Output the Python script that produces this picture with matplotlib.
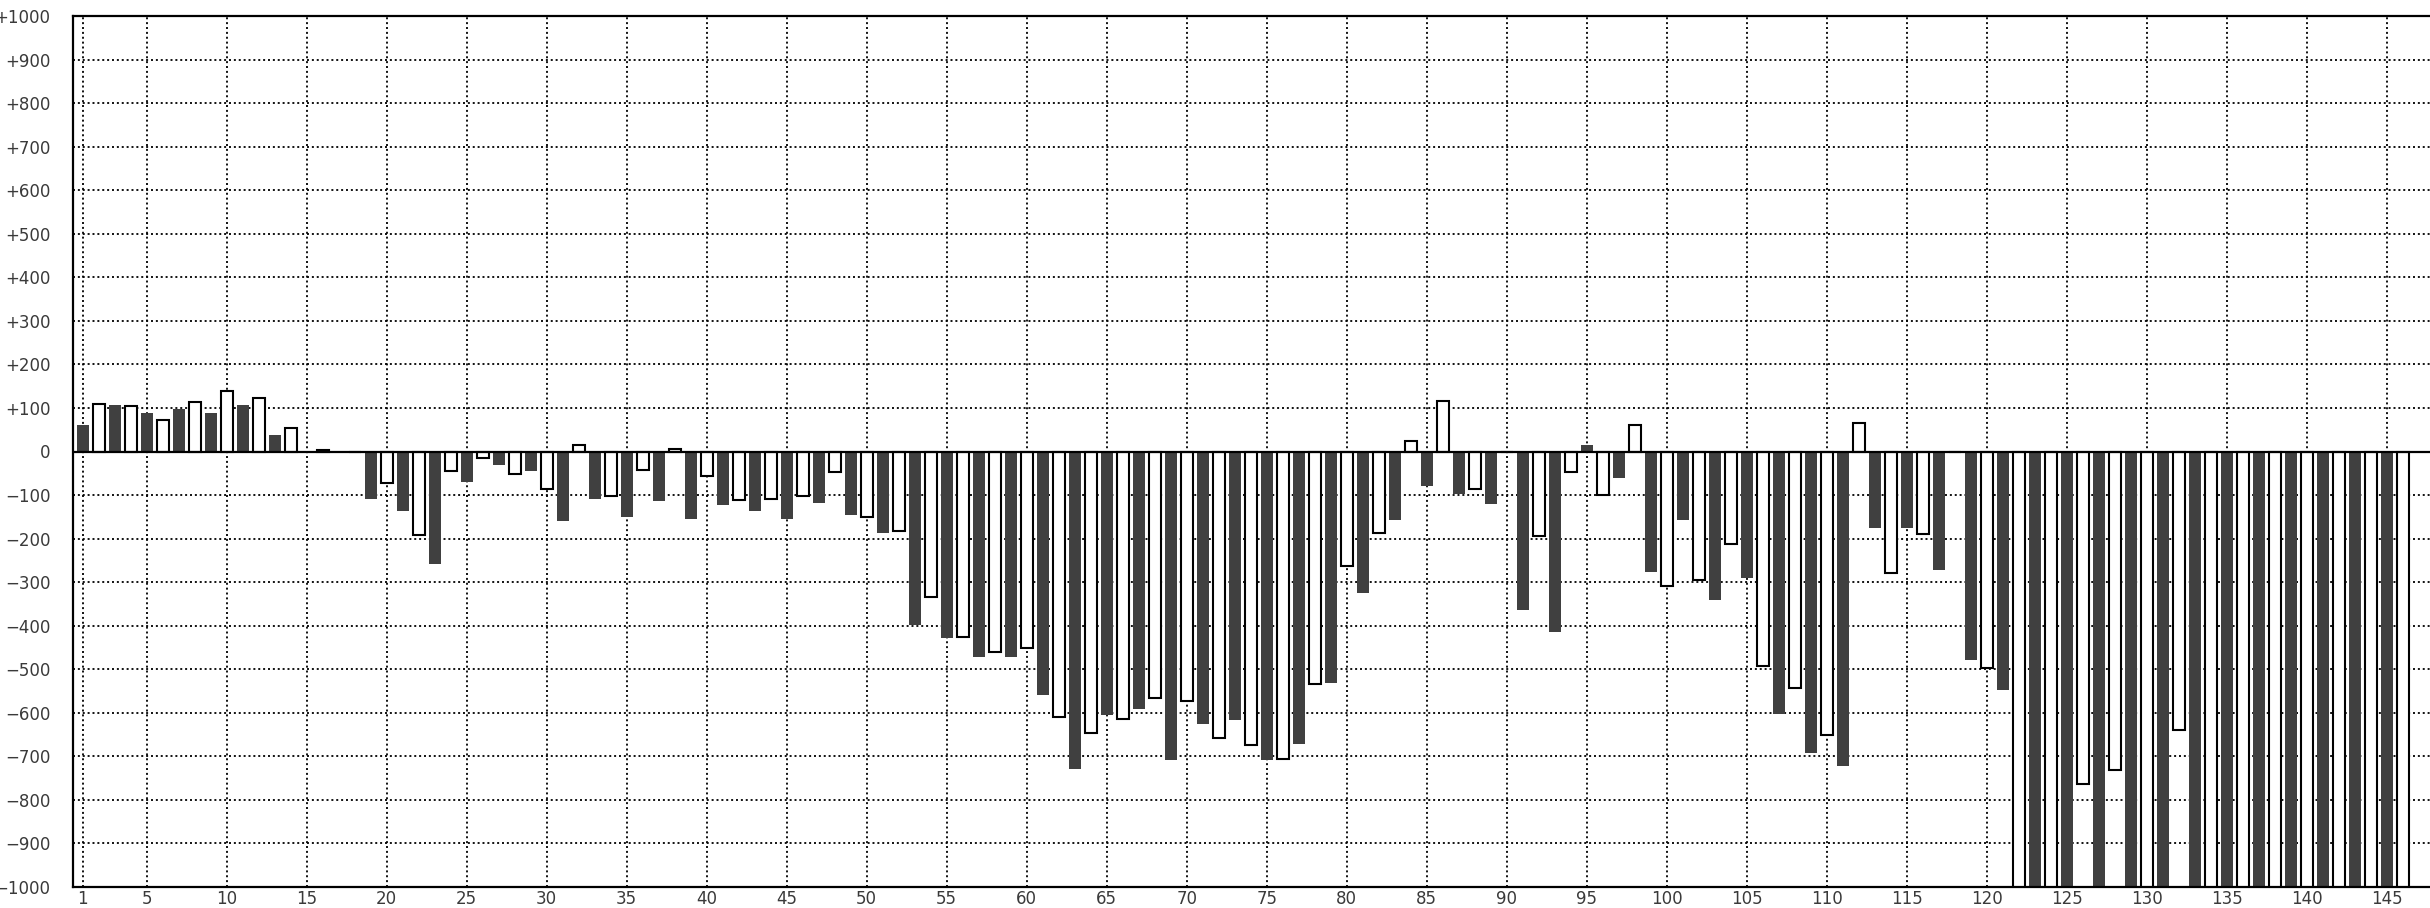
import numpy as np
import matplotlib
matplotlib.use("Agg")
import matplotlib.pyplot as plt

# ---- data ----
# odd days 1,3,...,145 -> dark bars
dark_days = np.arange(1, 146, 2)
dark_vals = [60, 106, 88, 97, 88, 106, 37, 0, 0, -110,
             -137, -258, -69, -31, -44, -160, -109, -151, -114, -155,
             -123, -137, -155, -118, -145, -188, -399, -428, -473, -472,
             -559, -730, -605, -591, -708, -625, -616, -708, -672, -532,
             -325, -158, -80, -98, -121, -365, -415, 16, -61, -277,
             -158, -342, -291, -603, -692, -723, -176, -176, -273, -479,
             -548, -1100, -1100, -1100, -1100, -1100, -1100, -1100, -1100, -1100,
             -1100, -1100, -1100]
# even days 2,4,...,146 -> white (outlined) bars
white_days = np.arange(2, 147, 2)
white_vals = [110, 105, 73, 114, 138, 123, 54, 4, 0, -72,
              -192, -44, -15, -52, -85, 15, -103, -43, 5, -57,
              -112, -108, -103, -47, -150, -182, -334, -425, -461, -452,
              -609, -646, -614, -567, -572, -659, -674, -707, -535, -262,
              -188, 24, 116, -87, 0, -194, -47, -101, 60, -308,
              -295, -212, -492, -542, -652, 65, -280, -189, 0, -496,
              -1100, -1100, -764, -731, -1100, -639, -1100, -1100, -1100, -1100,
              -1100, -1100, -1100]

x_ticks = [1, 5, 10, 15, 20, 25, 30, 35, 40, 45, 50, 55, 60, 65, 70, 75,
           80, 85, 90, 95, 100, 105, 110, 115, 120, 125, 130, 135, 140, 145]
y_ticks = [-1000, -900, -800, -700, -600, -500, -400, -300, -200, -100, 0,
           100, 200, 300, 400, 500, 600, 700, 800, 900, 1000]

W, H = 2430, 908
fig = plt.figure(figsize=(W / 100, H / 100), dpi=100)
ax = fig.add_axes([72.7 / W, 21 / H, 1 - 72.7 / W, 871 / H])

ax.bar(dark_days, dark_vals, width=0.75, color="#404040", lw=0, zorder=3)
ax.bar(white_days, white_vals, width=0.75, color="white", ec="black", lw=1.5, zorder=3)
ax.axhline(0, color="black", lw=1.6, zorder=4)

ax.set_xlim(0.375, 147.7)
ax.set_ylim(-1000, 1000)
ax.set_xticks(x_ticks)
ax.set_yticks(y_ticks)
ax.set_yticklabels([("+%d" % v) if v > 0 else ("0" if v == 0 else "\u2212%d" % -v) for v in y_ticks])
ax.tick_params(length=0, labelsize=12, labelcolor="#3a3a3a")
ax.tick_params(axis="y", pad=16)
ax.tick_params(axis="x", pad=2)

ax.grid(True, color="black", lw=1.3, ls=(0, (1.1, 1.6)), zorder=0)
ax.set_axisbelow(True)
for s in ("left", "top", "bottom"):
    ax.spines[s].set_linewidth(1.6)
    ax.spines[s].set_zorder(5)
ax.spines["right"].set_visible(False)

fig.savefig("out.png", dpi=100)
